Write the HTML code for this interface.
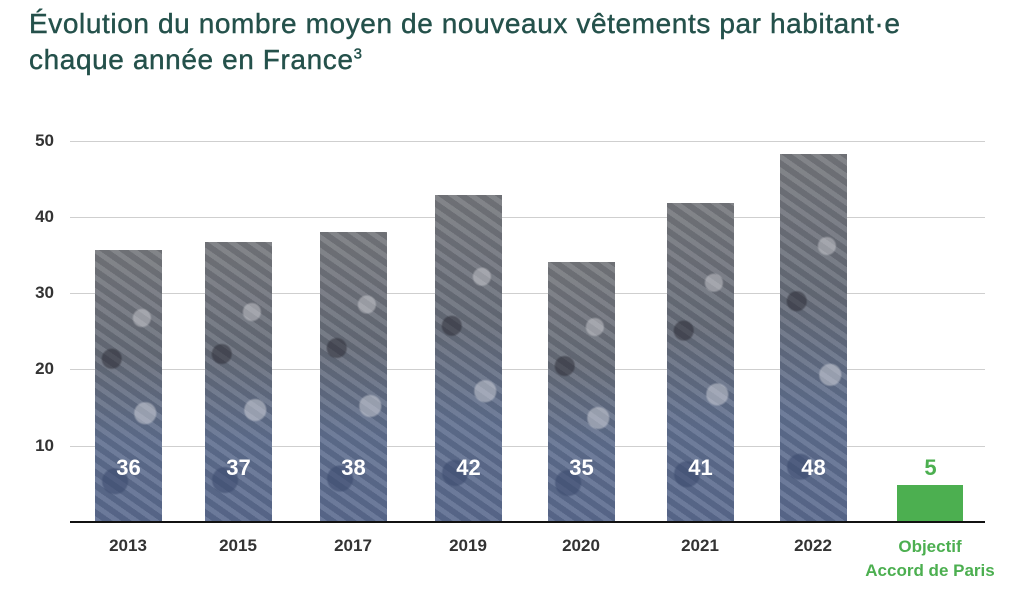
<!DOCTYPE html>
<html><head><meta charset="utf-8"><style>
body{margin:0;width:1024px;height:592px;background:#fff;position:relative;overflow:hidden;font-family:"Liberation Sans",sans-serif}
.t{position:absolute;left:29px;font-size:28px;color:#24514b;letter-spacing:0.6px;-webkit-text-stroke:0.4px #24514b;white-space:nowrap}
.g{position:absolute;left:70px;width:915px;height:1px;background:#cfcfcf}
.yl{position:absolute;left:20px;width:34px;text-align:right;font-size:17px;font-weight:bold;color:#333}
.bar{position:absolute;width:67px;bottom:70px;
background:
radial-gradient(circle at 30% 85%,rgba(60,75,110,.6) 0 12px,transparent 14px),
radial-gradient(circle at 75% 60%,rgba(210,212,220,.5) 0 10px,transparent 12px),
radial-gradient(circle at 25% 40%,rgba(40,40,50,.5) 0 9px,transparent 11px),
radial-gradient(circle at 70% 25%,rgba(215,215,220,.45) 0 8px,transparent 10px),
repeating-linear-gradient(35deg,rgba(255,255,255,.1) 0 5px,rgba(0,0,0,.06) 5px 11px),
linear-gradient(#75777c,#656b78 40%,#5f6e8e 70%,#5a6a8e)}
.v{position:absolute;width:67px;text-align:center;top:455px;font-size:22px;font-weight:900;color:#fff}
.x{position:absolute;width:100px;text-align:center;top:536px;font-size:17px;font-weight:bold;color:#333}
</style></head><body>
<div class="t" style="top:8px">Évolution du nombre moyen de nouveaux vêtements par habitant·e</div>
<div class="t" style="top:44px">chaque année en France<sup style="font-size:15px">3</sup></div>
<div class="g" style="top:141px"></div><div class="g" style="top:217px"></div><div class="g" style="top:293px"></div><div class="g" style="top:369px"></div><div class="g" style="top:446px"></div>
<div class="yl" style="top:131px">50</div><div class="yl" style="top:207px">40</div><div class="yl" style="top:283px">30</div><div class="yl" style="top:359px">20</div><div class="yl" style="top:436px">10</div>
<div class="bar" style="left:95px;top:250px"></div>
<div class="bar" style="left:205px;top:242px"></div>
<div class="bar" style="left:320px;top:232px"></div>
<div class="bar" style="left:435px;top:195px"></div>
<div class="bar" style="left:548px;top:262px"></div>
<div class="bar" style="left:667px;top:203px"></div>
<div class="bar" style="left:780px;top:154px"></div>
<div style="position:absolute;left:897px;top:485px;width:66px;height:37px;background:#4caf50"></div>
<div class="v" style="left:95px">36</div><div class="v" style="left:205px">37</div><div class="v" style="left:320px">38</div><div class="v" style="left:435px">42</div><div class="v" style="left:548px">35</div><div class="v" style="left:667px">41</div><div class="v" style="left:780px">48</div>
<div class="v" style="left:897px;color:#4caf50">5</div>
<div style="position:absolute;left:70px;top:521px;width:915px;height:2px;background:#111"></div>
<div class="x" style="left:78px">2013</div><div class="x" style="left:188px">2015</div><div class="x" style="left:303px">2017</div><div class="x" style="left:418px">2019</div><div class="x" style="left:531px">2020</div><div class="x" style="left:650px">2021</div><div class="x" style="left:763px">2022</div>
<div style="position:absolute;left:840px;top:535px;width:180px;text-align:center;font-size:17px;font-weight:bold;color:#4caf50;line-height:24px">Objectif<br>Accord de Paris</div>
</body></html>
